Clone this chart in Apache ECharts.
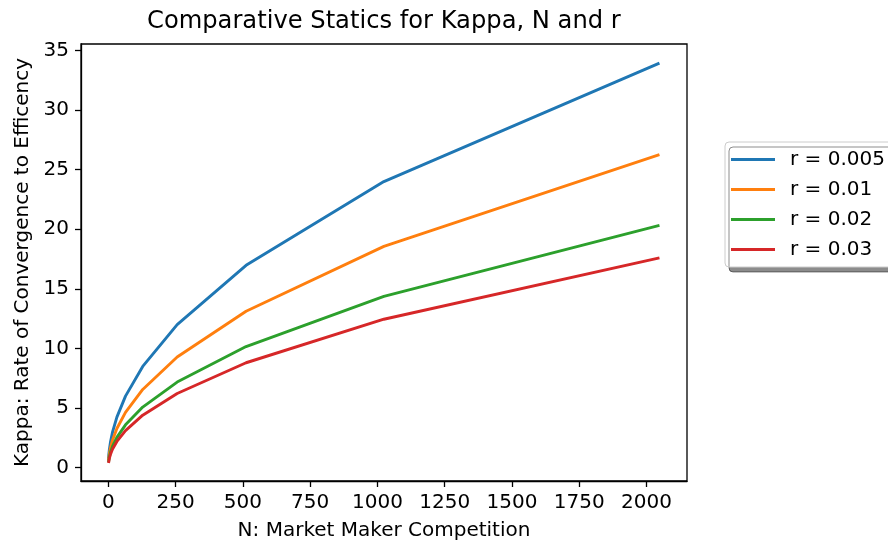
<!DOCTYPE html>
<html>
<head>
<meta charset="utf-8">
<script src="https://cdn.jsdelivr.net/npm/echarts@6/dist/echarts.min.js"></script>
<style>html,body{margin:0;padding:0;background:#fff;}#c{width:888px;height:546px;}</style>
</head>
<body>
<div id="c"></div>
<script>
// N values (x) and kappa values
const nValues = [1, 2, 4, 8, 16, 32, 64, 128, 256, 512, 1024, 2048];
const kappaR005 = [0.75, 1.06, 1.5, 2.12, 3.0, 4.24, 6.0, 8.49, 12.0, 16.97, 24.0, 33.94];
const kappaR01  = [0.58, 0.82, 1.16, 1.64, 2.32, 3.28, 4.64, 6.56, 9.28, 13.12, 18.56, 26.25];
const kappaR02  = [0.45, 0.63, 0.9, 1.27, 1.8, 2.54, 3.59, 5.08, 7.18, 10.16, 14.37, 20.32];
const kappaR03  = [0.39, 0.55, 0.78, 1.1, 1.56, 2.2, 3.11, 4.4, 6.22, 8.8, 12.45, 17.6];
const seriesNames = ['r = 0.005', 'r = 0.01', 'r = 0.02', 'r = 0.03'];
const xTicks = [0, 250, 500, 750, 1000, 1250, 1500, 1750, 2000];
const yTicks = [0, 5, 10, 15, 20, 25, 30, 35];

const colors = ['#1f77b4', '#ff7f0e', '#2ca02c', '#d62728'];
const allSeries = [kappaR005, kappaR01, kappaR02, kappaR03];
const font = 'DejaVu Sans';
const fs = 20;

const chart = echarts.init(document.getElementById('c'), null, {renderer: 'canvas'});
chart.setOption({
  animation: false,
  backgroundColor: '#fff',
  title: {
    text: 'Comparative Statics for Kappa, N and r',
    left: 147, top: 10, padding: 0,
    textStyle: {fontFamily: font, fontSize: 24.2, fontWeight: 'normal', color: '#000'}
  },
  legend: {
    orient: 'vertical',
    left: 725, top: 142,
    padding: [7, 14, 7, 6],
    itemWidth: 44, itemHeight: 3, itemGap: 9,
    icon: 'rect',
    backgroundColor: '#fff',
    borderColor: '#cccccc', borderWidth: 1, borderRadius: 4,
    shadowColor: 'rgba(0,0,0,0.45)', shadowBlur: 0, shadowOffsetX: 4, shadowOffsetY: 5,
    textStyle: {fontFamily: font, fontSize: fs, color: '#000', lineHeight: 21, padding: [0, 0, 0, 10]},
    data: seriesNames
  },
  grid: {
    left: 81, right: 201, top: 44, bottom: 64,
    show: true, borderColor: '#000', borderWidth: 1.3, backgroundColor: 'transparent'
  },
  xAxis: {
    type: 'value',
    min: -101.35, max: 2150.35,
    name: 'N: Market Maker Competition',
    nameLocation: 'middle', nameGap: 40,
    nameTextStyle: {fontFamily: font, fontSize: fs, color: '#000'},
    axisLine: {show: true, onZero: false, lineStyle: {color: '#000', width: 1.3}},
    axisTick: {show: true, length: 6, inside: false, customValues: xTicks, lineStyle: {color: '#000', width: 1.3}},
    axisLabel: {customValues: xTicks, margin: 12, fontFamily: font, fontSize: fs, color: '#000',
      formatter: v => String(v)},
    splitLine: {show: false}
  },
  yAxis: {
    type: 'value',
    min: -1.12, max: 35.54,
    name: 'Kappa: Rate of Convergence to Efficency',
    nameLocation: 'middle', nameGap: 47,
    nameTextStyle: {fontFamily: font, fontSize: fs, color: '#000'},
    axisLine: {show: true, onZero: false, lineStyle: {color: '#000', width: 1.3}},
    axisTick: {show: true, length: 6, inside: false, customValues: yTicks, lineStyle: {color: '#000', width: 1.3}},
    axisLabel: {customValues: yTicks, margin: 12, fontFamily: font, fontSize: fs, color: '#000',
      formatter: v => String(v)},
    splitLine: {show: false}
  },
  series: allSeries.map((vals, i) => ({
    name: seriesNames[i],
    type: 'line',
    data: nValues.map((n, j) => [n, vals[j]]),
    showSymbol: false,
    symbol: 'none',
    smooth: false,
    color: colors[i],
    lineStyle: {color: colors[i], width: 2.9}
  }))
});
</script>
</body>
</html>
